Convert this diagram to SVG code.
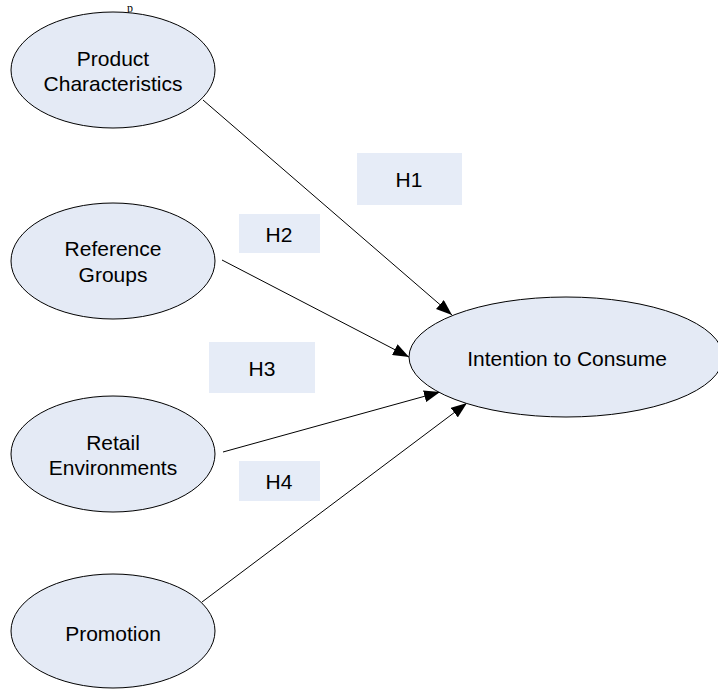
<svg xmlns="http://www.w3.org/2000/svg" width="718" height="689" viewBox="0 0 718 689">
<defs>
<style>
.node ellipse{fill:#e4eaf5;stroke:#000;stroke-width:1}
.lbl rect{fill:#e6ecf7;stroke:none}
text{font-family:"Liberation Sans",Arial,sans-serif;font-size:21px;fill:#000;text-anchor:middle;dominant-baseline:central}
.edges line{stroke:#000;stroke-width:1;marker-end:url(#arr)}
</style>
<marker id="arr" markerUnits="userSpaceOnUse" markerWidth="16" markerHeight="12" viewBox="0 0 16 12" refX="16" refY="6" orient="auto">
<path d="M0,0 L16,6 L0,12 Z" fill="#000"/>
</marker>
</defs>
<rect width="718" height="689" fill="#fff"/>
<text x="130" y="11.5" style="font-family:'Liberation Serif',serif;font-size:12px;dominant-baseline:auto">p</text>
<g class="edges">
<line x1="203" y1="100" x2="452" y2="315"/>
<line x1="222" y1="260" x2="409" y2="357"/>
<line x1="223" y1="452" x2="440" y2="392"/>
<line x1="202" y1="602" x2="467" y2="403"/>
</g>
<g id="n-product" class="node"><ellipse cx="113" cy="70" rx="102" ry="58"/><text x="113" y="58">Product</text><text x="113" y="83">Characteristics</text></g>
<g id="n-reference" class="node"><ellipse cx="113" cy="261" rx="102" ry="58"/><text x="113" y="248">Reference</text><text x="113" y="274">Groups</text></g>
<g id="n-retail" class="node"><ellipse cx="113" cy="454" rx="102" ry="58"/><text x="113" y="442">Retail</text><text x="113" y="467">Environments</text></g>
<g id="n-promotion" class="node"><ellipse cx="113" cy="631" rx="102" ry="57"/><text x="113" y="633">Promotion</text></g>
<g id="n-intention" class="node"><ellipse cx="566" cy="357" rx="157" ry="60"/><text x="567" y="358">Intention to Consume</text></g>
<g id="h1" class="lbl"><rect x="357" y="153" width="105" height="52"/><text x="409" y="179">H1</text></g>
<g id="h2" class="lbl"><rect x="239" y="214" width="81" height="39"/><text x="279" y="234">H2</text></g>
<g id="h3" class="lbl"><rect x="209" y="342" width="106" height="51"/><text x="262" y="368">H3</text></g>
<g id="h4" class="lbl"><rect x="239" y="461" width="81" height="40"/><text x="279" y="481">H4</text></g>
</svg>
